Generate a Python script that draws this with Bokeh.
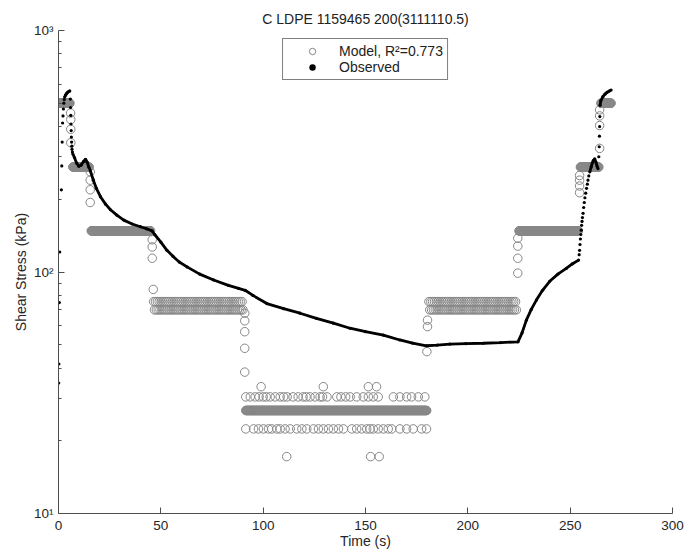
import numpy as np
from bokeh.plotting import figure
from bokeh.models import FixedTicker
from bokeh.embed import file_html
from bokeh.resources import INLINE

title_text = "C LDPE 1159465 200(3111110.5)"
x_label = "Time (s)"
y_label = "Shear Stress (kPa)"
model_label = "Model, R\u00b2=0.773"
obs_label = "Observed"
x_ticks = [0, 50, 100, 150, 200, 250, 300]
y_ticks = [10, 100, 1000]
y_tick_labels = ["10\u00b9", "10\u00b2", "10\u00b3"]

# Model: flat stretches of the step model, (start s, end s, sample step s, level kPa)
model_runs = [
    (0.0, 5.6, 0.2, 500),
    (7.0, 15.0, 0.2, 272),
    (16.0, 45.0, 0.2, 148),
    (46.5, 90.5, 0.9, 75.4),
    (46.9, 90.5, 0.9, 69.7),
    (91.5, 180.0, 0.2, 26.7),
    (181.0, 224.0, 0.9, 75.4),
    (181.4, 224.0, 0.9, 69.7),
    (225.0, 254.0, 0.2, 148),
    (255.0, 264.0, 0.2, 272),
    (265.0, 270.0, 0.2, 500),
]
# scattered circles of the noisy low stretch
model_upper_level = 30.4
model_upper_t = [91.5, 93.7, 96.1, 98.0, 100.0, 101.5, 103.4, 105.9, 108.3, 110.0,
                 111.7, 114.6, 117.1, 119.5, 121.0, 122.9, 125.4, 127.8, 129.0, 131.2,
                 136.0, 138.0, 140.3, 142.5, 145.7, 148.9, 151.4, 153.8, 156.2,
                 163.6, 166.8, 170.1, 172.5, 175.8, 179.0]
model_lower_level = 22.4
model_lower_t = [91.5, 95.3, 97.7, 100.1, 102.6, 104.2, 106.7, 108.3, 110.7, 113.2,
                 116.4, 118.9, 121.3, 124.6, 127.0, 129.4, 131.9, 134.3, 136.8, 139.2,
                 143.3, 145.7, 148.1, 150.6, 152.2, 153.8, 156.2, 158.7, 161.1, 162.8,
                 166.8, 170.1, 173.3, 177.4, 179.8]
# transition and outlier circles
model_extra_t = [5.9, 6.0, 6.0, 6.0, 15.5, 15.5, 15.5, 15.5, 45.8, 45.8, 45.8, 46.3,
                 91.0, 91.0, 91.0, 91.0, 91.0, 99.0, 129.4, 151.4, 155.4,
                 111.5, 152.5, 156.7, 180.0, 180.3, 180.3,
                 224.4, 224.4, 224.4, 224.4,
                 254.6, 254.6, 254.6, 254.6, 264.4, 264.4, 264.4, 264.4]
model_extra_v = [455, 428, 390, 343, 260, 240, 219, 194, 136, 127, 114, 84.7,
                 67.5, 62.8, 56.6, 48.3, 38.5, 33.5, 33.5, 33.5, 33.5,
                 17.2, 17.2, 17.2, 46.8, 59.4, 63.2,
                 98.9, 114, 128, 138,
                 213, 227, 240, 251, 325, 404, 443, 469]

# Observed
obs_t = [0.1, 0.2, 0.4, 0.6, 1.4, 1.6, 1.8, 2.0, 2.2, 2.4, 2.6, 2.8,
         3.0, 3.5, 4.0, 4.5, 5.0, 5.5,
         5.8, 5.9, 6.0, 6.1, 6.2, 6.3, 6.4, 6.5, 6.6, 6.8,
         7.0, 7.8, 8.8, 9.9, 11.0, 12.3, 13.2, 14.0, 14.8, 15.6, 17.0, 18.5,
         20.5, 23.0, 25.4, 28.5, 31.9, 36.0, 40.0, 43.0, 45.7, 47.0, 50.0,
         53.0, 56.0, 59.0, 62.8, 69.0, 75.8, 83.0, 88.0, 91.2, 95.0, 101.8,
         110.0, 118.0, 126.0, 134.3, 142.4, 150.0, 158.7, 166.8, 173.0,
         179.8, 185.0, 191.2, 199.0, 207.5, 216.0, 224.5, 226.5, 228.6,
         231.0, 233.5, 236.5, 240.0, 244.0, 248.1, 251.0, 254.1,
         254.4, 254.6, 254.8, 255.0, 255.2, 255.4, 255.6, 255.8, 256.0,
         256.3, 256.6, 256.9, 257.2, 257.6, 258.0, 258.4, 258.7, 259.1,
         259.6, 260.3, 260.8, 261.4, 262.0, 262.6, 263.1, 263.6,
         264.0, 264.2, 264.3, 264.4, 264.5,
         264.6, 265.0, 266.0, 267.0, 268.0, 269.0, 270.0]
obs_v = [34.7, 41.6, 74.7, 121, 219, 275, 345, 414, 443, 473, 500, 518,
         530, 541, 549, 555, 559, 562,
         520, 480, 445, 410, 385, 362, 345, 332, 322, 314,
         308, 298, 283, 274, 277, 287, 293, 285, 272, 262, 240, 222,
         205, 191, 181, 172, 164, 158, 154, 151, 148, 143, 133,
         123, 116, 110, 105, 98, 92.7, 88, 85.5, 84, 80, 74,
         70.5, 67.5, 64.3, 61.4, 58.5, 56.6, 54.8, 52.3, 50.8,
         49.5, 49.8, 50.3, 50.5, 50.7, 51.0, 51.4, 56, 63.2,
         70, 76.5, 84, 91.5, 98, 103.5, 108, 112,
         118, 123, 130, 137, 143, 149, 156, 162, 168,
         175, 185, 194, 203, 212, 222, 231, 240, 250,
         260, 273, 283, 290, 294, 285, 275, 268,
         300, 330, 365, 400, 440,
         490, 512, 532, 545, 554, 561, 567]
# time spans over which the observed samples are dense enough to read as a line
obs_dense_spans = [(3.0, 5.5), (7.0, 254.1), (259.6, 263.6), (264.6, 270.0)]

font = "Liberation Sans"

model_t, model_v = [], []
for a, b, step, level in model_runs:
    ts = np.arange(a, b + 1e-9, step)
    model_t += list(ts)
    model_v += [level] * len(ts)
model_t += model_upper_t
model_v += [model_upper_level] * len(model_upper_t)
model_t += model_lower_t
model_v += [model_lower_level] * len(model_lower_t)
model_t += model_extra_t
model_v += model_extra_v

p = figure(width=697, height=551, y_axis_type="log",
           x_range=(0, 300), y_range=(10, 1000),
           output_backend="svg", toolbar_location=None,
           min_border_left=58, min_border_right=25, min_border_top=30,
           min_border_bottom=38)

p.title.text = title_text
p.title.align = "center"
p.title.text_font = font
p.title.text_font_size = "14px"
p.title.text_font_style = "normal"
p.title.text_color = "#222222"
p.title.standoff = 8

p.xgrid.visible = False
p.ygrid.visible = False
p.outline_line_color = None

p.scatter(model_t, model_v, marker="circle", size=8.5,
          fill_color=None, line_color="#878787", line_width=1,
          legend_label=model_label)

xs, ys = [], []
for a, b in obs_dense_spans:
    xs.append([t for t in obs_t if a <= t <= b])
    ys.append([v for t, v in zip(obs_t, obs_v) if a <= t <= b])
p.multi_line(xs, ys, line_color="black", line_width=2.8)
p.scatter(obs_t, obs_v, marker="circle", size=3.2,
          fill_color="black", line_color=None,
          legend_label=obs_label)

p.xaxis.ticker = FixedTicker(ticks=x_ticks)
p.yaxis.ticker = FixedTicker(
    ticks=y_ticks,
    minor_ticks=[20, 30, 40, 50, 60, 70, 80, 90,
                 200, 300, 400, 500, 600, 700, 800, 900])
p.yaxis.major_label_overrides = {float(k): s for k, s in zip(y_ticks, y_tick_labels)}

for ax in (p.xaxis[0], p.yaxis[0]):
    ax.axis_line_color = "#4d4d4d"
    ax.major_tick_line_color = "#4d4d4d"
    ax.minor_tick_line_color = "#4d4d4d"
    ax.major_tick_in = 6
    ax.major_tick_out = 0
    ax.minor_tick_in = 3
    ax.minor_tick_out = 0
    ax.major_label_text_font = font
    ax.major_label_text_font_size = "13.5px"
    ax.major_label_text_color = "#262626"
    ax.axis_label_text_font = font
    ax.axis_label_text_font_size = "14px"
    ax.axis_label_text_font_style = "normal"
    ax.axis_label_text_color = "#262626"
p.xaxis.minor_tick_line_color = None
p.xaxis.axis_label = x_label
p.yaxis.axis_label = y_label
p.xaxis.major_label_standoff = 7
p.xaxis.axis_label_standoff = 0
p.yaxis.major_label_standoff = 5
p.yaxis.axis_label_standoff = 2

leg = p.legend[0]
leg.location = "top_center"
leg.margin = 8
leg.padding = 4
leg.spacing = 0
leg.border_line_color = "black"
leg.border_line_width = 1
leg.background_fill_color = "white"
leg.background_fill_alpha = 1
leg.label_text_font = font
leg.label_text_font_size = "14px"
leg.label_text_color = "#222222"
leg.glyph_width = 50
leg.glyph_height = 16
leg.label_height = 16
leg.label_standoff = 2

open("out.html", "w").write(file_html(p, INLINE))
